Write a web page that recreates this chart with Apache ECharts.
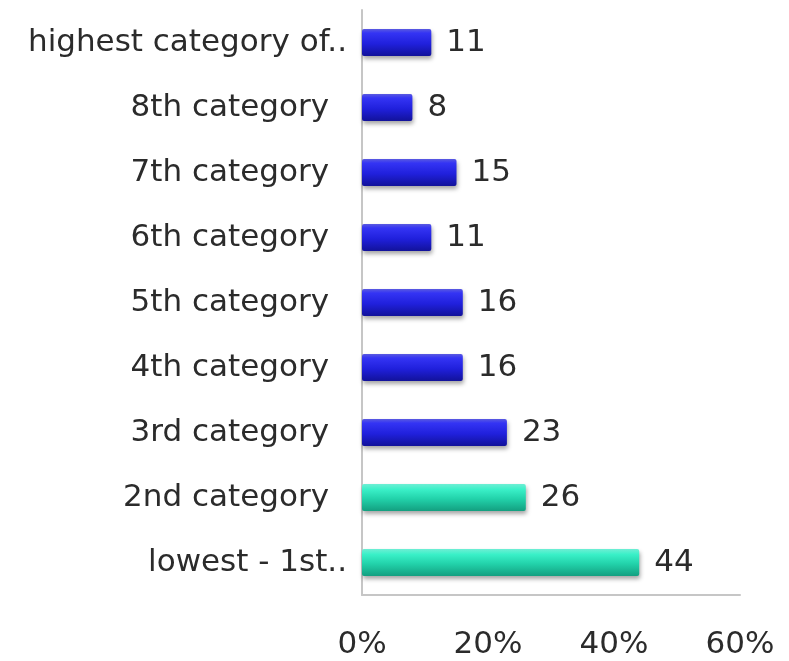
<!DOCTYPE html>
<html>
<head>
<meta charset="utf-8">
<script src="https://cdn.jsdelivr.net/npm/echarts@6/dist/echarts.min.js"></script>
<style>
  html, body { margin: 0; padding: 0; background: #ffffff; }
  #chart { width: 789px; height: 661px; }
</style>
</head>
<body>
<div id="chart"></div>
<script>
// Categories listed bottom to top (category axis starts at the bottom)
const categories = [
  'lowest - 1st..',
  '2nd category',
  '3rd category',
  '4th category',
  '5th category',
  '6th category',
  '7th category',
  '8th category',
  'highest category of..'
];
const shares = [44, 26, 23, 16, 16, 11, 15, 8, 11];
// Which bars use the highlight (teal) colour
const highlighted = [true, true, false, false, false, false, false, false, false];
const xTicks = { min: 0, max: 60, step: 20 };

const FONT = 'DejaVu Sans';
const FONT_SIZE = 31;
const TEXT_COLOR = '#2b2b2b';

const blueFill = new echarts.graphic.LinearGradient(0, 0, 0, 1, [
  { offset: 0, color: '#5a5ae0' },
  { offset: 0.15, color: '#3434f4' },
  { offset: 0.55, color: '#2020dc' },
  { offset: 1, color: '#12129a' }
]);
const tealFill = new echarts.graphic.LinearGradient(0, 0, 0, 1, [
  { offset: 0, color: '#6eeed4' },
  { offset: 0.2, color: '#3af0c8' },
  { offset: 0.55, color: '#22d2aa' },
  { offset: 1, color: '#139f80' }
]);

const chart = echarts.init(document.getElementById('chart'), null, { renderer: 'canvas' });

chart.setOption({
  animation: false,
  textStyle: { fontFamily: FONT },
  grid: { left: 362, right: 49, top: 10, bottom: 66, containLabel: false },
  xAxis: {
    type: 'value',
    min: xTicks.min,
    max: xTicks.max,
    interval: xTicks.step,
    axisLine: { show: true, lineStyle: { color: '#c6c6c6', width: 2 } },
    axisTick: { show: false },
    splitLine: { show: false },
    axisLabel: {
      formatter: '{value}%',
      color: TEXT_COLOR,
      fontSize: FONT_SIZE,
      margin: 34,
      fontFamily: FONT
    }
  },
  yAxis: {
    type: 'category',
    data: categories,
    axisLine: { show: true, lineStyle: { color: '#c6c6c6', width: 2 } },
    axisTick: { show: false },
    axisLabel: {
      color: TEXT_COLOR,
      fontSize: FONT_SIZE,
      margin: 15,
      fontFamily: FONT,
      formatter: function (v) {
        return v.endsWith('..') ? '{t|' + v + '}' : '{n|' + v + '}';
      },
      rich: {
        t: { fontSize: FONT_SIZE, color: TEXT_COLOR, fontFamily: FONT },
        n: { fontSize: FONT_SIZE, color: TEXT_COLOR, fontFamily: FONT, padding: [0, 18, 0, 0] }
      }
    }
  },
  series: [{
    type: 'bar',
    barWidth: 27,
    data: shares.map(function (v, i) {
      return {
        value: v,
        itemStyle: { color: highlighted[i] ? tealFill : blueFill }
      };
    }),
    itemStyle: {
      borderRadius: 2,
      shadowColor: 'rgba(0,0,0,0.35)',
      shadowBlur: 4,
      shadowOffsetX: 1,
      shadowOffsetY: 3
    },
    label: {
      show: true,
      position: 'right',
      distance: 15,
      color: TEXT_COLOR,
      fontSize: FONT_SIZE,
      fontFamily: FONT
    }
  }]
});
</script>
</body>
</html>
